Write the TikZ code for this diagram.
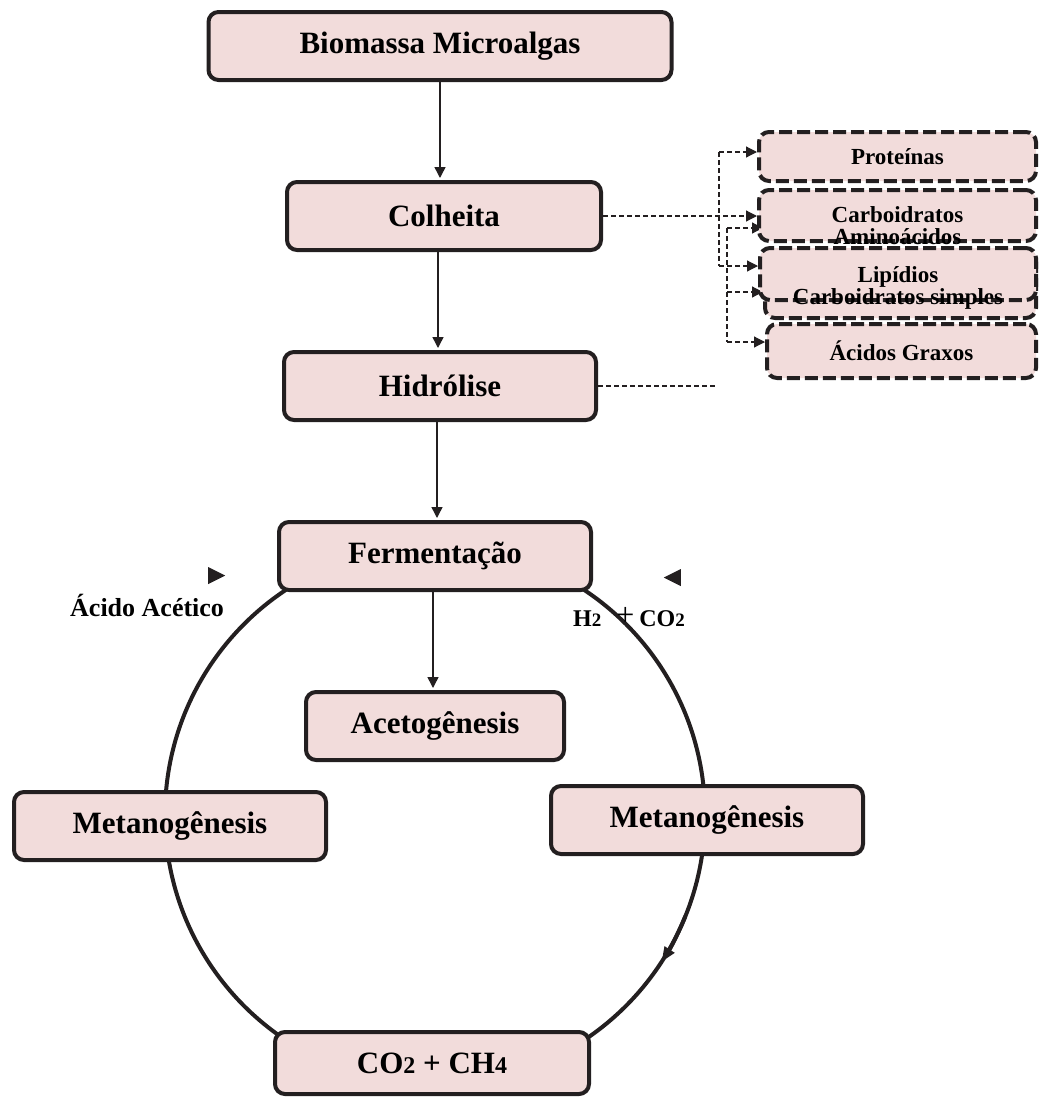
\documentclass[tikz,border=0pt]{standalone}
\usepackage{fontspec}
\setmainfont{Liberation Serif}
\usetikzlibrary{arrows.meta,shapes.geometric,backgrounds}
\definecolor{rosa}{HTML}{F2DCDB}
\definecolor{contorno}{HTML}{231F20}

\begin{document}
\begin{tikzpicture}[x=1pt, y=1pt, node distance=170pt, every node/.style={align=center}, >={Triangle[length=11pt,width=11pt]}]
    % estilos
    \tikzstyle{etapa} = [rectangle, rounded corners=10pt, draw=contorno, line width=4pt, fill=rosa, minimum width=312pt, minimum height=68pt, inner sep=0pt, font=\bfseries\fontsize{31}{34}\selectfont]
    \tikzstyle{componente} = [rectangle, rounded corners=10pt, draw=contorno, line width=4pt, dash pattern=on 13pt off 5pt, fill=rosa, inner sep=0pt, font=\bfseries\fontsize{23}{21.5}\selectfont]
    \tikzstyle{rotulo} = [inner sep=0pt, font=\bfseries\fontsize{23}{21.5}\selectfont]
    \tikzstyle{seta} = [draw=contorno, line width=1.5pt, shorten >=2pt, ->]
    \tikzstyle{ligacao} = [draw=contorno, line width=1.2pt, dash pattern=on 5pt off 3pt]
    \tikzstyle{ciclo} = [draw=contorno, line width=4pt]
    \tikzstyle{ponta} = [isosceles triangle, isosceles triangle stretches, fill=contorno, minimum width=17pt, minimum height=17pt, inner sep=0pt]

    \useasboundingbox (0,0) rectangle (1040,-1098);

    % etapas principais
    \node[etapa, minimum width=463pt] (bio) at (440,-46) {Biomassa Microalgas};
    \node[etapa, below of=bio, xshift=4pt, minimum width=314pt] (colh) {Colheita};
    \node[etapa, below of=colh, xshift=-4pt] (hidr) {Hidrólise};
    \node[etapa, below of=hidr, xshift=-5pt] (ferm) {Fermentação};
    \node[etapa, below of=ferm, minimum width=258pt] (acet) {Acetogênesis};
    \node[etapa] (metE) at (170,-826) {Metanogênesis};
    \node[etapa] (metD) at (707,-820) {Metanogênesis};
    \node[etapa, minimum width=314pt, minimum height=62pt] (prod) at (432,-1063) {CO{\fontsize{24}{24}\selectfont 2} + CH{\fontsize{24}{24}\selectfont 4}};

    % componentes
    \node[componente, minimum width=277pt, minimum height=49pt] (prot) at (897.5,-156.5) {Proteínas};
    \node[componente, minimum width=277pt, minimum height=51pt] (carb) at (897.5,-215.5) {};
    \node[rotulo] (carbtxt) at ([yshift=-10pt]carb.center) {Carboidratos\\Aminoácidos};
    \node[componente, minimum width=271pt, minimum height=66pt] (sob) at (900.5,-285) {};
    \node[componente, minimum width=276pt, minimum height=52pt] (lip) at (898,-274) {};
    \node[rotulo] (liptxt) at ([yshift=-14pt]lip.center) {Lipídios\\Carboidratos simples};
    \node[componente, minimum width=269pt, minimum height=54pt] (acid) at (901.5,-351) {Ácidos Graxos};

    % produtos intermediarios
    \node[anchor=base west, inner sep=0pt, font=\bfseries\fontsize{26}{26}\selectfont] (acetico) at (70,-616) {Ácido Acético};
    \node[anchor=base west, inner sep=0pt, font=\bfseries\fontsize{24}{24}\selectfont] (gases) at (573,-626) {H{\fontsize{19}{19}\selectfont 2}\hspace{15pt}\raisebox{1pt}{\mdseries\fontsize{32}{32}\selectfont +}\hspace{5pt}CO{\fontsize{19}{19}\selectfont 2}};
    \node[ponta] (t1) at (213.5,-575.5) {};
    \node[ponta, shape border rotate=180] (t2) at (675.5,-577.5) {};

    \begin{scope}[on background layer]
    % ciclo
    \coordinate (centro) at (435,-815);
    \draw[ciclo] (centro) circle[radius=270pt];
    \draw[ciclo, -{Triangle[length=15pt,width=11pt]}] ([shift={(-22:270pt)}]centro) arc[start angle=-22, end angle=-33, radius=270pt];

    % setas
    \draw[seta] (bio.south) -- (bio.south |- colh.north);
    \draw[seta] ([xshift=-6pt]colh.south) -- ([xshift=-6pt]colh.south |- hidr.north);
    \draw[seta] ([xshift=-3pt]hidr.south) -- ([xshift=-3pt]hidr.south |- ferm.north);
    \draw[seta] ([xshift=-2pt]ferm.south) -- ([xshift=-2pt]ferm.south |- acet.north);

    % ligacoes tracejadas
    \draw[ligacao, ->] (colh.east) -- (colh.east -| carb.west);
    \coordinate (r1) at (719,-152);
    \coordinate (r2) at (719,-266);
    \draw[ligacao] (r1) -- (r2);
    \draw[ligacao, ->] (r1) -- (r1 -| prot.west);
    \draw[ligacao, ->] (r2) -- (r2 -| lip.west);
    \coordinate (hf) at (715,-386);
    \draw[ligacao] (hidr.east) -- (hf);
    \coordinate (s1) at (727,-228);
    \coordinate (s2) at (727,-292);
    \coordinate (s3) at (727,-342);
    \draw[ligacao] (s1) -- (s3);
    \draw[ligacao, ->] (s1) -- +(36,0);
    \draw[ligacao, ->] (s2) -- +(36,0);
    \draw[ligacao, ->] (s3) -- (s3 -| acid.west);
    \end{scope}
\end{tikzpicture}
\end{document}
